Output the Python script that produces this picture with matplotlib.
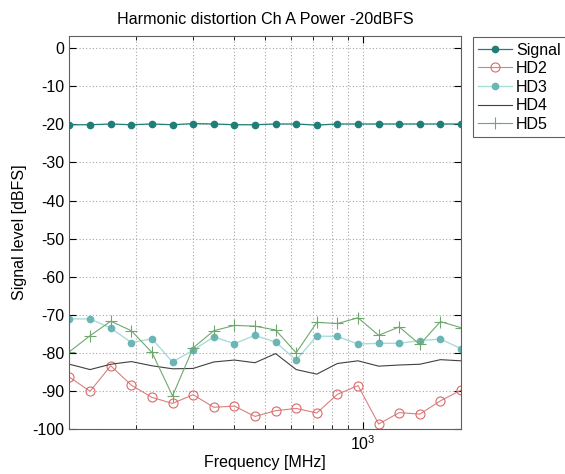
import matplotlib
matplotlib.use("Agg")
import matplotlib.pyplot as plt

plt.rcParams['font.family'] = ['Liberation Sans', 'DejaVu Sans']
plt.rcParams['mathtext.fontset'] = 'custom'
plt.rcParams['mathtext.rm'] = 'Liberation Sans'
plt.rcParams['axes.unicode_minus'] = False

# frequencies [MHz]
freq = [125, 144.6, 167.4, 193.7, 224.1, 259.3, 300, 347.2, 401.7, 464.9,
        537.9, 622.4, 720.2, 833.3, 964.3, 1115.8, 1291.1, 1494, 1728.7, 2000]

signal = [-20.1, -20.1, -19.9, -20.1, -19.9, -20.1, -19.8, -19.9, -20.1, -20.1,
          -19.9, -19.9, -20.2, -19.9, -19.9, -19.9, -19.9, -19.9, -19.9, -19.9]
hd2 = [-86.4, -90.1, -83.4, -88.5, -91.7, -93.3, -91.0, -94.3, -94.0, -96.7,
       -95.2, -94.6, -95.8, -90.9, -88.6, -98.7, -95.7, -96.1, -92.6, -89.8]
hd3 = [-71.1, -71.1, -73.5, -77.3, -76.3, -82.4, -79.3, -75.8, -77.6, -75.4,
       -77.2, -81.9, -75.6, -75.7, -77.7, -77.5, -77.5, -76.8, -76.4, -78.9]
hd4 = [-83.0, -84.4, -83.0, -82.3, -83.4, -84.2, -84.1, -82.4, -81.9, -82.6,
       -80.2, -84.4, -85.6, -82.8, -82.1, -83.5, -83.2, -83.0, -81.8, -82.1]
hd5 = [-79.7, -75.5, -71.7, -74.2, -79.9, -91.3, -78.7, -74.2, -72.8, -73.0,
       -74.0, -80.0, -72.0, -72.3, -70.8, -75.4, -73.2, -77.8, -71.8, -73.4]

fig = plt.figure(figsize=(5.65, 4.74), dpi=100)
ax = fig.add_axes([0.123, 0.095, 0.693, 0.829])

ax.plot(freq, signal, color='#1f7f78', lw=0.9, marker='o', ms=4.5,
        mfc='#1f7f78', mec='#1f7f78', label='Signal')
ax.plot(freq, hd2, color='#d98080', lw=0.8, marker='o', ms=6.5,
        mfc='none', mec='#d96a6a', mew=0.8, label='HD2')
ax.plot(freq, hd3, color='#a9dcd9', lw=1.0, marker='o', ms=4.5,
        mfc='#6ab5b5', mec='#6ab5b5', label='HD3')
ax.plot(freq, hd4, color='#404040', lw=0.8, label='HD4')
ax.plot(freq, hd5, color='#6fa86f', lw=0.8, marker='+', ms=9,
        mew=0.8, label='HD5')

ax.set_xscale('log')
ax.set_xlim(125, 2000)
ax.set_ylim(-100, 3.2)
ax.set_yticks(range(-100, 1, 10))
ax.set_xticks([1000])
ax.set_xticks([200, 300, 400, 500, 600, 700, 800, 900, 2000], minor=True)
ax.set_xticklabels([r'$10^3$'])
ax.set_xticklabels([], minor=True)

ax.grid(True, which='both', axis='x', linestyle=(0, (1, 2)), color='#a8a8a8', lw=0.8)
ax.grid(True, which='major', axis='y', linestyle=(0, (1, 2)), color='#a8a8a8', lw=0.8)
ax.tick_params(which='both', direction='in', top=True, right=True, labelsize=11.5)
ax.tick_params(which='major', length=5)
ax.tick_params(which='minor', length=3)
for s in ax.spines.values():
    s.set_color('#606060')

ax.set_title('Harmonic distortion Ch A Power -20dBFS', fontsize=11.6, pad=9)
ax.set_xlabel('Frequency [MHz]', fontsize=11.5, labelpad=2)
ax.set_ylabel('Signal level [dBFS]', fontsize=11.5)

leg = ax.legend(loc='upper left', bbox_to_anchor=(0.837, 0.922),
                bbox_transform=fig.transFigure, fontsize=11.5, fancybox=False,
                framealpha=1, edgecolor='#606060', handlelength=2.1,
                borderpad=0.35, labelspacing=0.22, handletextpad=0.25,
                borderaxespad=0)
leg.get_frame().set_linewidth(0.8)

fig.savefig('out.png', dpi=100)
